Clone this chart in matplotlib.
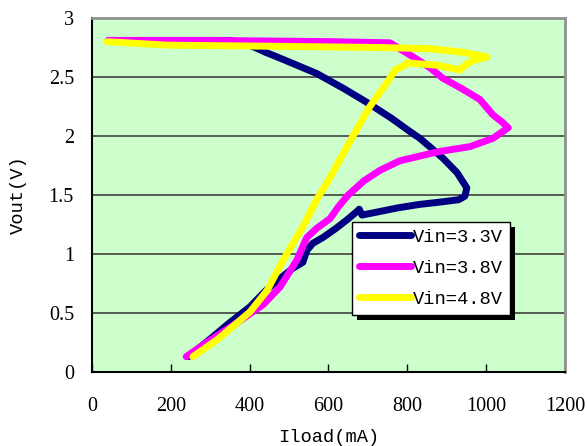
import matplotlib
matplotlib.use('Agg')
import matplotlib.pyplot as plt
from matplotlib.patches import Rectangle

# 曲線資料 (Iload mA, Vout V)
x_33 = [245, 300, 350, 400, 444, 480, 510, 535, 545, 560, 586, 620, 647, 672, 678, 685,
        730, 774, 830, 883, 930, 946, 951, 926, 891, 860, 832, 810, 760, 700, 640,
        570, 520, 477, 440, 414, 380, 350, 200, 41]
y_33 = [0.13, 0.28, 0.42, 0.55, 0.70, 0.80, 0.88, 0.93, 1.03, 1.09, 1.14, 1.22, 1.29, 1.36, 1.38, 1.33,
        1.36, 1.39, 1.42, 1.44, 1.46, 1.49, 1.56, 1.69, 1.81, 1.90, 1.98, 2.03, 2.15, 2.28, 2.40,
        2.53, 2.60, 2.66, 2.71, 2.75, 2.79, 2.81, 2.81, 2.81]

x_38 = [239, 300, 360, 434, 477, 520, 545, 571, 604, 625, 650, 690, 731, 781, 857, 883,
        959, 1017, 1056, 1040, 1017, 984, 934, 890, 857, 815, 756, 600, 300, 41]
y_38 = [0.13, 0.27, 0.40, 0.57, 0.72, 0.95, 1.14, 1.22, 1.30, 1.40, 1.50, 1.62, 1.71, 1.79, 1.85, 1.87,
        1.91, 1.98, 2.07, 2.12, 2.18, 2.31, 2.41, 2.49, 2.58, 2.67, 2.79, 2.80, 2.81, 2.81]

x_48 = [256, 320, 401, 444, 485, 535, 573, 596, 647, 705, 748, 769, 794, 799, 875,
        934, 946, 967, 1002, 941, 857, 731, 477, 190, 38]
y_48 = [0.13, 0.28, 0.51, 0.69, 0.95, 1.23, 1.48, 1.60, 1.91, 2.25, 2.45, 2.56, 2.60, 2.62, 2.60,
        2.56, 2.60, 2.64, 2.67, 2.71, 2.74, 2.75, 2.76, 2.77, 2.80]

x_ticks = [0, 200, 400, 600, 800, 1000, 1200]
y_ticks = [0, 0.5, 1, 1.5, 2, 2.5, 3]
y_tick_labels = ['0', '0.5', '1', '1.5', '2', '2.5', '3']

fig = plt.figure(figsize=(5.87, 4.46), dpi=100)
ax = fig.add_axes([0.1567, 0.1659, 0.8058, 0.7937])
ax.set_facecolor('#ccffcc')

style = dict(lw=5, solid_capstyle='round', solid_joinstyle='round')
ax.plot(x_33, y_33, color='#000080', label='Vin=3.3V', **style)
ax.plot(x_38, y_38, color='#ff00ff', label='Vin=3.8V', **style)
ax.plot(x_48, y_48, color='#ffff00', label='Vin=4.8V', **style)

ax.set_xlim(0, 1200)
ax.set_ylim(0, 3)
ax.set_xticks(x_ticks)
ax.set_yticks(y_ticks)
ax.set_yticklabels(y_tick_labels)
ax.yaxis.grid(True, color='#404040', lw=1.2)
ax.set_axisbelow(True)

ax.tick_params(axis='x', direction='in', length=6, width=1, pad=18, labelsize=14.5)
ax.tick_params(axis='y', length=0, pad=13, labelsize=14.5)
for lab in ax.get_xticklabels() + ax.get_yticklabels():
    lab.set_fontfamily('Liberation Serif')

for s in ['left', 'bottom']:
    ax.spines[s].set_color('black')
    ax.spines[s].set_linewidth(1.5)
for s in ['top', 'right']:
    ax.spines[s].set_color('#909090')
    ax.spines[s].set_linewidth(2)

ax.set_xlabel('Iload(mA)', fontfamily='Liberation Mono', fontsize=13.5, labelpad=9)
ax.set_ylabel('Vout(V)', fontfamily='Liberation Mono', fontsize=13.5, labelpad=16)

leg = ax.legend(loc='upper left', bbox_to_anchor=(0.55, 0.424), borderaxespad=0,
                fancybox=False, framealpha=1, edgecolor='black',
                prop={'family': 'Liberation Mono', 'size': 13.5},
                handlelength=2.8, handletextpad=0.1, labelspacing=0.75,
                borderpad=0.35)
leg.get_frame().set_linewidth(1)

# 圖例陰影
fig.canvas.draw()
bb = leg.get_window_extent().transformed(ax.transAxes.inverted())
dx = 5 / (ax.bbox.width)
dy = 5 / (ax.bbox.height)
ax.add_patch(Rectangle((bb.x0 + dx, bb.y0 - dy), bb.width, bb.height, transform=ax.transAxes,
                       facecolor='black', edgecolor='none', zorder=4.9, clip_on=False))

fig.savefig('out.png', dpi=100)
